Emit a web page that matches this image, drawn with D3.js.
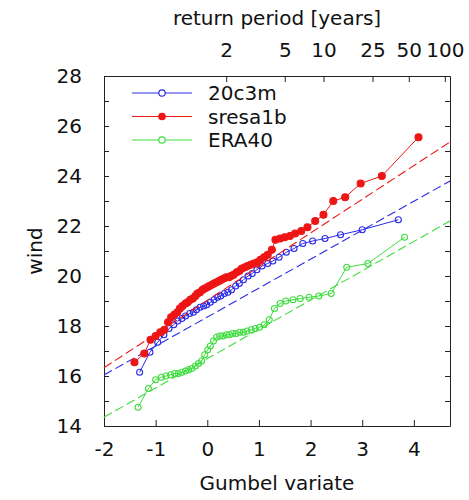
<!DOCTYPE html>
<html>
<head>
<meta charset="utf-8">
<script src="https://cdn.jsdelivr.net/npm/d3@7"></script>
<style>
  body { margin: 0; background: #fff; }
  svg { display: block; font-family: "DejaVu Sans", sans-serif; }
</style>
</head>
<body>
<svg width="469" height="500"></svg>
<script>
// Gumbel plot of wind maxima, three data sets with their fitted lines

var seriesNames = ["20c3m", "sresa1b", "ERA40"];
var seriesColors = ["#2a2ae8", "#ee1515", "#3fdc3f"];

// 20c3m (blue, open circles)
var gumbelBlue = [-1.31, -1.11, -0.96, -0.84, -0.74, -0.65, -0.57, -0.49, -0.42, -0.34,
    -0.27, -0.21, -0.14, -0.07, -0.01, 0.06, 0.13, 0.20, 0.26, 0.33,
    0.40, 0.47, 0.55, 0.62, 0.70, 0.79, 0.87, 0.96, 1.06, 1.17,
    1.27, 1.39, 1.53, 1.68, 1.85, 2.04, 2.28, 2.58, 3.00, 3.70];
var windBlue = [16.15, 16.95, 17.35, 17.65, 17.9, 18.05, 18.2, 18.3, 18.4, 18.5,
    18.55, 18.65, 18.75, 18.8, 18.85, 18.95, 19.05, 19.15, 19.2, 19.3,
    19.35, 19.45, 19.6, 19.7, 19.85, 20.0, 20.1, 20.25, 20.4, 20.5,
    20.6, 20.75, 20.95, 21.1, 21.3, 21.4, 21.5, 21.65, 21.85, 22.25];

// sresa1b (red, filled circles)
var gumbelRed = [-1.41, -1.22, -1.10, -1.00, -0.91, -0.83, -0.76, -0.70, -0.64, -0.58,
    -0.53, -0.48, -0.42, -0.38, -0.33, -0.28, -0.23, -0.19, -0.14, -0.09,
    -0.05, 0.00, 0.04, 0.09, 0.13, 0.18, 0.23, 0.27, 0.32, 0.37,
    0.42, 0.46, 0.51, 0.57, 0.62, 0.67, 0.73, 0.78, 0.84, 0.90,
    0.97, 1.03, 1.10, 1.17, 1.25, 1.32, 1.41, 1.50, 1.60, 1.70,
    1.82, 1.94, 2.09, 2.25, 2.44, 2.67, 2.97, 3.38, 4.09];
var windRed = [16.55, 16.9, 17.45, 17.6, 17.75, 17.85, 18.15, 18.35, 18.45, 18.55,
    18.7, 18.8, 18.9, 18.95, 19.05, 19.1, 19.2, 19.3, 19.35, 19.45,
    19.5, 19.55, 19.6, 19.65, 19.7, 19.75, 19.8, 19.85, 19.9, 19.95,
    19.95, 20.0, 20.05, 20.15, 20.2, 20.3, 20.35, 20.4, 20.45, 20.5,
    20.55, 20.65, 20.75, 20.85, 21.05, 21.45, 21.5, 21.55, 21.6, 21.7,
    21.8, 21.95, 22.2, 22.45, 23.0, 23.15, 23.7, 24.0, 25.55];

// ERA40 (green, open circles)
var gumbelGreen = [-1.34, -1.14, -1.00, -0.89, -0.80, -0.71, -0.63, -0.56, -0.49, -0.42,
    -0.36, -0.30, -0.23, -0.17, -0.11, -0.05, 0.01, 0.06, 0.12, 0.18,
    0.24, 0.30, 0.37, 0.43, 0.49, 0.56, 0.63, 0.70, 0.77, 0.85,
    0.93, 1.01, 1.10, 1.20, 1.30, 1.41, 1.52, 1.66, 1.80, 1.97,
    2.16, 2.40, 2.70, 3.11, 3.82];
var windGreen = [14.75, 15.5, 15.85, 15.95, 16.0, 16.05, 16.1, 16.1, 16.15, 16.2,
    16.25, 16.3, 16.4, 16.5, 16.6, 16.85, 17.05, 17.2, 17.4, 17.55,
    17.6, 17.6, 17.65, 17.65, 17.7, 17.7, 17.75, 17.75, 17.8, 17.85,
    17.9, 17.95, 18.05, 18.25, 18.7, 18.9, 19.0, 19.05, 19.1, 19.15,
    19.2, 19.3, 20.35, 20.5, 21.55];

// fitted Gumbel lines, wind at the two ends of the x range
var fitGumbel = [-2, 4.7];
var fitBlue = [16.04, 23.8];
var fitRed = [16.33, 25.36];
var fitGreen = [14.35, 22.2];

var returnPeriods = [2, 5, 10, 25, 50, 100];
var windTicks = [14, 15, 16, 17, 18, 19, 20, 21, 22, 23, 24, 25, 26, 27, 28];
var gumbelTicks = [-2, -1, 0, 1, 2, 3, 4];

var margin = {top: 76, right: 19, bottom: 74, left: 104};
var svg = d3.select("svg");
var width = 469 - margin.left - margin.right;
var height = 500 - margin.top - margin.bottom;

var x = d3.scaleLinear().domain([-2, 4.7]).range([0, width]);
var y = d3.scaleLinear().domain([14, 28]).range([height, 0]);

var g = svg.append("g")
    .attr("transform", "translate(" + margin.left + "," + margin.top + ")");

g.append("clipPath").attr("id", "plotclip")
    .append("rect").attr("width", width).attr("height", height);

function styleAxis(sel) {
    sel.selectAll("path, line").attr("stroke", "#222");
    sel.selectAll("text").attr("font-size", 20).attr("fill", "#111")
        .attr("font-family", "DejaVu Sans, sans-serif");
}

g.append("g").attr("transform", "translate(0," + height + ")")
    .call(d3.axisBottom(x).tickValues(gumbelTicks).tickSizeInner(-6).tickSizeOuter(0).tickPadding(16)
        .tickFormat(function (d) { return String(d); }))
    .call(styleAxis);

g.append("g")
    .call(d3.axisLeft(y).tickValues(windTicks).tickSizeInner(-5).tickSizeOuter(0).tickPadding(22)
        .tickFormat(function (d) { return d % 2 === 0 ? d : ""; }))
    .call(styleAxis);

g.append("g").attr("transform", "translate(" + width + ",0)")
    .call(d3.axisRight(y).tickValues(windTicks).tickSizeInner(-5).tickSizeOuter(0).tickFormat(""))
    .call(styleAxis);

// top axis: return period T placed at its Gumbel variate -ln(-ln(1 - 1/T))
var topScale = function (T) { return x(-Math.log(-Math.log(1 - 1 / T))); };
var topAxis = d3.axisTop(d3.scaleLinear().domain([0, width]).range([0, width]))
    .tickValues(returnPeriods.map(topScale))
    .tickFormat(function (d, i) { return returnPeriods[i]; })
    .tickSizeInner(-6).tickSizeOuter(0).tickPadding(19);
g.append("g").call(topAxis).call(styleAxis);

// axis titles
svg.append("text").attr("x", margin.left + width / 2).attr("y", 490)
    .attr("text-anchor", "middle").attr("font-size", 20).attr("fill", "#111")
    .text("Gumbel variate");
svg.append("text").attr("x", margin.left + width / 2).attr("y", 25)
    .attr("text-anchor", "middle").attr("font-size", 20).attr("fill", "#111")
    .text("return period [years]");
svg.append("text").attr("transform", "translate(42," + (margin.top + height / 2) + ") rotate(-90)")
    .attr("text-anchor", "middle").attr("font-size", 20).attr("fill", "#111")
    .text("wind");

var series = [
    {name: seriesNames[0], color: seriesColors[0], gx: gumbelBlue, w: windBlue, fit: fitBlue, filled: false, r: 3},
    {name: seriesNames[1], color: seriesColors[1], gx: gumbelRed, w: windRed, fit: fitRed, filled: true, r: 3.5},
    {name: seriesNames[2], color: seriesColors[2], gx: gumbelGreen, w: windGreen, fit: fitGreen, filled: false, r: 3}
];

var line = d3.line().x(function (d) { return x(d[0]); }).y(function (d) { return y(d[1]); });
var plot = g.append("g").attr("clip-path", "url(#plotclip)");

series.forEach(function (s) {
    var pts = s.gx.map(function (v, i) { return [v, s.w[i]]; });
    var fitPts = fitGumbel.map(function (v, i) { return [v, s.fit[i]]; });

    plot.append("path").datum(fitPts)
        .attr("d", line).attr("fill", "none")
        .attr("stroke", s.color).attr("stroke-width", 1.1)
        .attr("stroke-dasharray", "9,4");

    plot.append("path").datum(pts)
        .attr("d", line).attr("fill", "none")
        .attr("stroke", s.color).attr("stroke-width", 1);

    plot.selectAll(null).data(pts).enter()
        .append("circle")
        .attr("cx", function (d) { return x(d[0]); })
        .attr("cy", function (d) { return y(d[1]); })
        .attr("r", s.r)
        .attr("fill", s.filled ? s.color : "none")
        .attr("stroke", s.color).attr("stroke-width", 1.1);
});

// legend
var legend = svg.append("g");
series.forEach(function (s, i) {
    var ly = 93 + i * 23.5;
    legend.append("line").attr("x1", 132).attr("x2", 192).attr("y1", ly).attr("y2", ly)
        .attr("stroke", s.color).attr("stroke-width", 1.2);
    legend.append("circle").attr("cx", 162).attr("cy", ly).attr("r", 3.2)
        .attr("fill", s.filled ? s.color : "#fff")
        .attr("stroke", s.color).attr("stroke-width", 1.2);
    legend.append("text").attr("x", 208).attr("y", ly).attr("dy", "0.36em")
        .attr("font-size", 20).attr("fill", "#111").text(s.name);
});
</script>
</body>
</html>
